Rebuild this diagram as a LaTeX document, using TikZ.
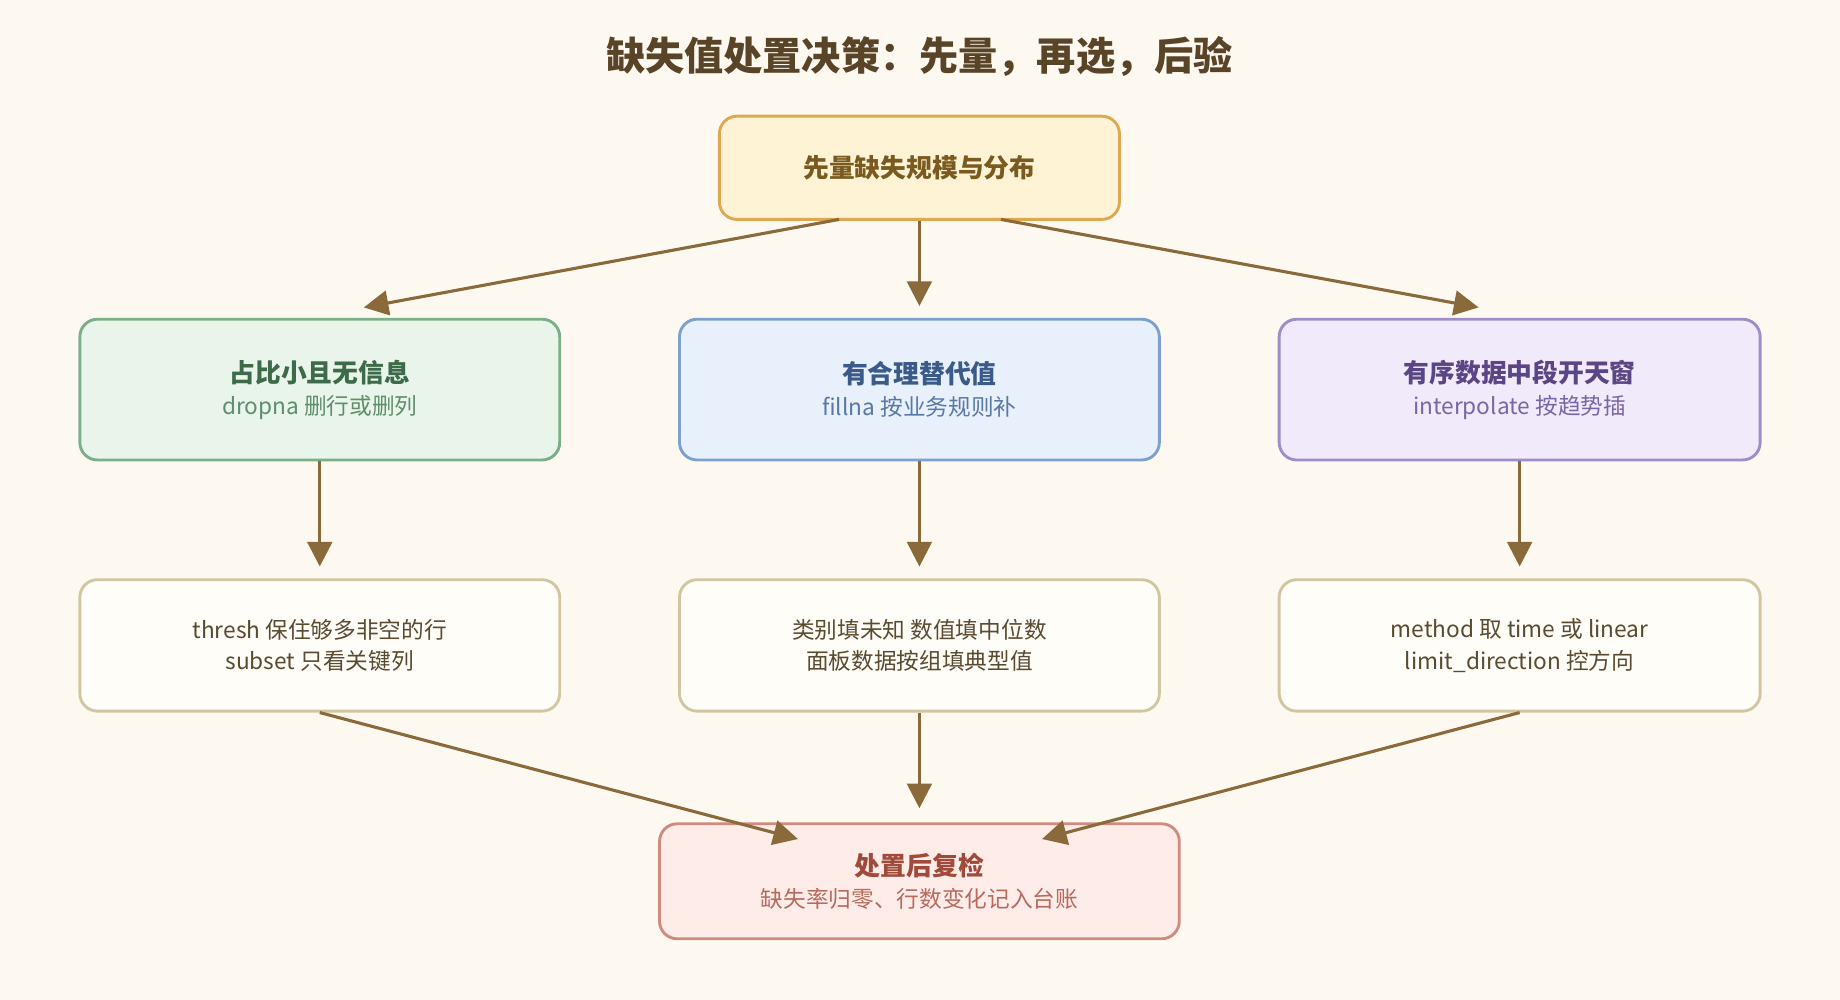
\documentclass[tikz,border=0pt]{standalone}
\usepackage{fontspec}
\setmainfont{Noto Sans CJK SC}
\usetikzlibrary{arrows.meta,positioning,calc}
\definecolor{bgc}{HTML}{FEF9F0}
\definecolor{arrc}{HTML}{8A6A3A}
\definecolor{topfill}{HTML}{FFF3D6}\definecolor{topdraw}{HTML}{DDA852}\definecolor{toptext}{HTML}{7A5A1E}
\definecolor{gfill}{HTML}{E9F4EA}\definecolor{gdraw}{HTML}{7DAE8A}\definecolor{gtext}{HTML}{3D6B4A}\definecolor{gsub}{HTML}{5E8E6A}
\definecolor{bfill}{HTML}{E8F0FB}\definecolor{bdraw}{HTML}{7F9FCC}\definecolor{btext}{HTML}{3A5A8A}\definecolor{bsub}{HTML}{5A78A6}
\definecolor{pfill}{HTML}{F0EAFA}\definecolor{pdraw}{HTML}{A08CC8}\definecolor{ptext}{HTML}{5A4585}\definecolor{psub}{HTML}{7A66A6}
\definecolor{wfill}{HTML}{FFFDF8}\definecolor{wdraw}{HTML}{D2C6A2}\definecolor{wtext}{HTML}{5A4A30}
\definecolor{rfill}{HTML}{FDECE8}\definecolor{rdraw}{HTML}{D08A80}\definecolor{rtext}{HTML}{A04A3A}\definecolor{rsub}{HTML}{B86A5E}
\definecolor{titlec}{HTML}{5A4428}
\tikzset{
  box/.style={draw, line width=1.4pt, rounded corners=0.3cm, align=center, inner sep=0pt},
  arr/.style={draw=arrc, line width=1.5pt, -{Triangle[length=0.42cm,width=0.42cm]}},
}
\begin{document}
\begin{tikzpicture}[x=0.02cm,y=-0.02cm]
\fill[bgc] (0,0) rectangle (1568,852);
\useasboundingbox (0,0) rectangle (1568,852);

\node (title) at (783.5,48) {\fontsize{19}{22}\selectfont\bfseries\color{titlec}缺失值处置决策：先量，再选，后验};

\node[box, fill=topfill, draw=topdraw, minimum width=6.82cm, minimum height=1.76cm] (measure) at (783.5,143)
  {\fontsize{12.5}{15}\selectfont\bfseries\color{toptext}先量缺失规模与分布};

\node[box, fill=gfill, draw=gdraw, minimum width=8.18cm, minimum height=2.4cm] (drop) at (272.5,332)
  {\fontsize{12.5}{15}\selectfont\bfseries\color{gtext}占比小且无信息\\[0.12cm]\fontsize{11}{14}\selectfont\color{gsub}dropna 删行或删列};
\node[box, fill=bfill, draw=bdraw, minimum width=8.18cm, minimum height=2.4cm] (fill) at (783.5,332)
  {\fontsize{12.5}{15}\selectfont\bfseries\color{btext}有合理替代值\\[0.12cm]\fontsize{11}{14}\selectfont\color{bsub}fillna 按业务规则补};
\node[box, fill=pfill, draw=pdraw, minimum width=8.2cm, minimum height=2.4cm] (interp) at (1295,332)
  {\fontsize{12.5}{15}\selectfont\bfseries\color{ptext}有序数据中段开天窗\\[0.12cm]\fontsize{11}{14}\selectfont\color{psub}interpolate 按趋势插};

\node[box, fill=wfill, draw=wdraw, minimum width=8.18cm, minimum height=2.24cm] (dropopt) at (272.5,550)
  {\fontsize{11}{14}\selectfont\color{wtext}thresh 保住够多非空的行\\[0.12cm]\fontsize{11}{14}\selectfont\color{wtext}subset 只看关键列};
\node[box, fill=wfill, draw=wdraw, minimum width=8.18cm, minimum height=2.24cm] (fillopt) at (783.5,550)
  {\fontsize{11}{14}\selectfont\color{wtext}类别填未知 数值填中位数\\[0.12cm]\fontsize{11}{14}\selectfont\color{wtext}面板数据按组填典型值};
\node[box, fill=wfill, draw=wdraw, minimum width=8.2cm, minimum height=2.24cm] (interpopt) at (1295,550)
  {\fontsize{11}{14}\selectfont\color{wtext}method 取 time 或 linear\\[0.12cm]\fontsize{11}{14}\selectfont\color{wtext}limit\_direction 控方向};

\node[box, fill=rfill, draw=rdraw, minimum width=8.86cm, minimum height=1.96cm] (check) at (783.5,751)
  {\fontsize{12.5}{15}\selectfont\bfseries\color{rtext}处置后复检\\[0.12cm]\fontsize{11}{14}\selectfont\color{rsub}缺失率归零、行数变化记入台账};

% arrow ends
\coordinate (m1) at (715,187);
\coordinate (m3) at (853,187);
\coordinate (e1) at (310,262);
\coordinate (e3) at (1260,262);
\coordinate (c1) at (680,715);
\coordinate (c3) at (888,715);

\draw[arr] (m1) -- (e1);
\draw[arr, shorten >=0.2cm] (measure) -- (fill);
\draw[arr] (m3) -- (e3);
\draw[arr, shorten >=0.2cm] (drop) -- (dropopt);
\draw[arr, shorten >=0.2cm] (fill) -- (fillopt);
\draw[arr, shorten >=0.2cm] (interp) -- (interpopt);
\draw[arr] (dropopt.south) -- (c1);
\draw[arr, shorten >=0.24cm] (fillopt) -- (check);
\draw[arr] (interpopt.south) -- (c3);
\end{tikzpicture}
\end{document}
